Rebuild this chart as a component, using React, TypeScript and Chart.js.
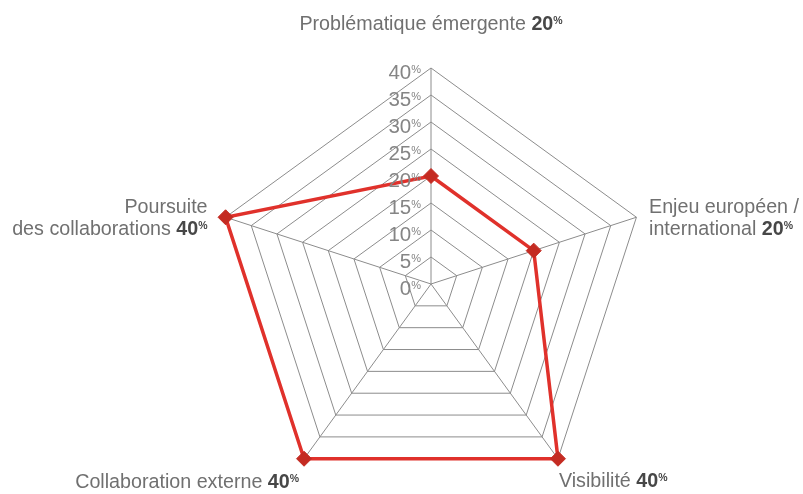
import React, { useEffect, useRef } from "react";
import { Chart, registerables } from "chart.js";

Chart.register(...registerables);

// ---- data ----
const categories: string[][] = [
  ["Problématique émergente"],
  ["Enjeu européen /", "international"],
  ["Visibilité"],
  ["Collaboration externe"],
  ["Poursuite", "des collaborations"],
];
const values: number[] = [20, 20, 40, 40, 40];
const tickMin = 0;
const tickMax = 40;
const tickStep = 5;
const unit = "%";

// ---- styles / layout (not data) ----
const FONT = "'Liberation Sans', Arial, Helvetica, sans-serif";
const TEXT_COLOR = "#707070";
const BOLD_COLOR = "#474747";
const TICK_COLOR = "#858585";
const GRID_COLOR = "#8c8c8c";
const LINE_COLOR = "#e0312b";
const POINT_COLOR = "#c42b22";

type Align = "left" | "right" | "center";
const labelLayout: { align: Align; dx: number; dy: number; gap: number }[] = [
  { align: "center", dx: 0, dy: -38, gap: 22 },
  { align: "left", dx: 12.6, dy: -4, gap: 22 },
  { align: "left", dx: 1, dy: 28, gap: 22 },
  { align: "right", dx: -5, dy: 29, gap: 22 },
  { align: "right", dx: -18, dy: -4, gap: 22 },
];

const labelPlugin = {
  id: "customRadarLabels",
  afterDraw(chart: any) {
    const scale = chart.scales.r;
    const ctx: CanvasRenderingContext2D = chart.ctx;
    ctx.save();
    ctx.textBaseline = "alphabetic";

    // tick labels
    const xr = scale.xCenter - 10;
    ctx.font = `11px ${FONT}`;
    const pw = ctx.measureText(unit).width;
    scale.ticks.forEach((t: any) => {
      const y = scale.yCenter - scale.getDistanceFromCenterForValue(t.value);
      ctx.fillStyle = TICK_COLOR;
      ctx.textAlign = "right";
      ctx.font = `11px ${FONT}`;
      ctx.fillText(unit, xr, y + 5);
      ctx.font = `20.5px ${FONT}`;
      ctx.fillText(String(t.value), xr - pw, y + 11);
    });

    // point labels
    type Seg = { text: string; font: string; color: string; dy: number };
    const drawSegs = (segs: Seg[], x: number, y: number, align: Align) => {
      let total = 0;
      const widths = segs.map((s) => {
        ctx.font = s.font;
        const w = ctx.measureText(s.text).width;
        total += w;
        return w;
      });
      let start = align === "left" ? x : align === "right" ? x - total : x - total / 2;
      ctx.textAlign = "left";
      segs.forEach((s, i) => {
        ctx.font = s.font;
        ctx.fillStyle = s.color;
        ctx.fillText(s.text, start, y + s.dy);
        start += widths[i];
      });
    };
    const regFont = `19.7px ${FONT}`;
    const boldFont = `bold 19.7px ${FONT}`;
    const supFont = `bold 10.5px ${FONT}`;
    categories.forEach((lines, i) => {
      const lay = labelLayout[i];
      const p = scale.getPointPosition(i, scale.drawingArea);
      const x = p.x + lay.dx;
      let y = p.y + lay.dy;
      lines.forEach((line, li) => {
        const isLast = li === lines.length - 1;
        const segs: Seg[] = [{ text: isLast ? line + " " : line, font: regFont, color: TEXT_COLOR, dy: 0 }];
        if (isLast) {
          segs.push({ text: String(values[i]), font: boldFont, color: BOLD_COLOR, dy: 0 });
          segs.push({ text: unit, font: supFont, color: BOLD_COLOR, dy: -6 });
        }
        drawSegs(segs, x, y, lay.align);
        y += lay.gap;
      });
    });
    ctx.restore();
  },
};

export default function App() {
  const ref = useRef<HTMLCanvasElement | null>(null);
  useEffect(() => {
    if (!ref.current) return;
    const chart = new Chart(ref.current, {
      type: "radar",
      data: {
        labels: categories.map((c) => c.join(" ")),
        datasets: [
          {
            data: values,
            borderColor: LINE_COLOR,
            borderWidth: 3.5,
            backgroundColor: "transparent",
            fill: false,
            tension: 0,
            pointStyle: "rectRot",
            pointRadius: 7.5,
            pointBackgroundColor: POINT_COLOR,
            pointBorderColor: POINT_COLOR,
            pointBorderWidth: 1,
          },
        ],
      },
      options: {
        responsive: false,
        maintainAspectRatio: false,
        animation: false,
        devicePixelRatio: 1,
        layout: { padding: { left: 215, right: 156, top: 68, bottom: 10 } },
        plugins: { legend: { display: false }, tooltip: { enabled: false } },
        scales: {
          r: {
            min: tickMin,
            max: tickMax,
            ticks: { stepSize: tickStep, display: false },
            grid: { color: GRID_COLOR, lineWidth: 1 },
            angleLines: { color: GRID_COLOR, lineWidth: 1 },
            pointLabels: { display: false },
          },
        },
      },
      plugins: [labelPlugin],
    } as any);
    return () => chart.destroy();
  }, []);
  return (
    <div style={{ position: "absolute", left: 0, top: 0, width: 803, height: 494, overflow: "hidden", background: "#fff" }}>
      <canvas ref={ref} width={803} height={510} style={{ display: "block" }} />
    </div>
  );
}
